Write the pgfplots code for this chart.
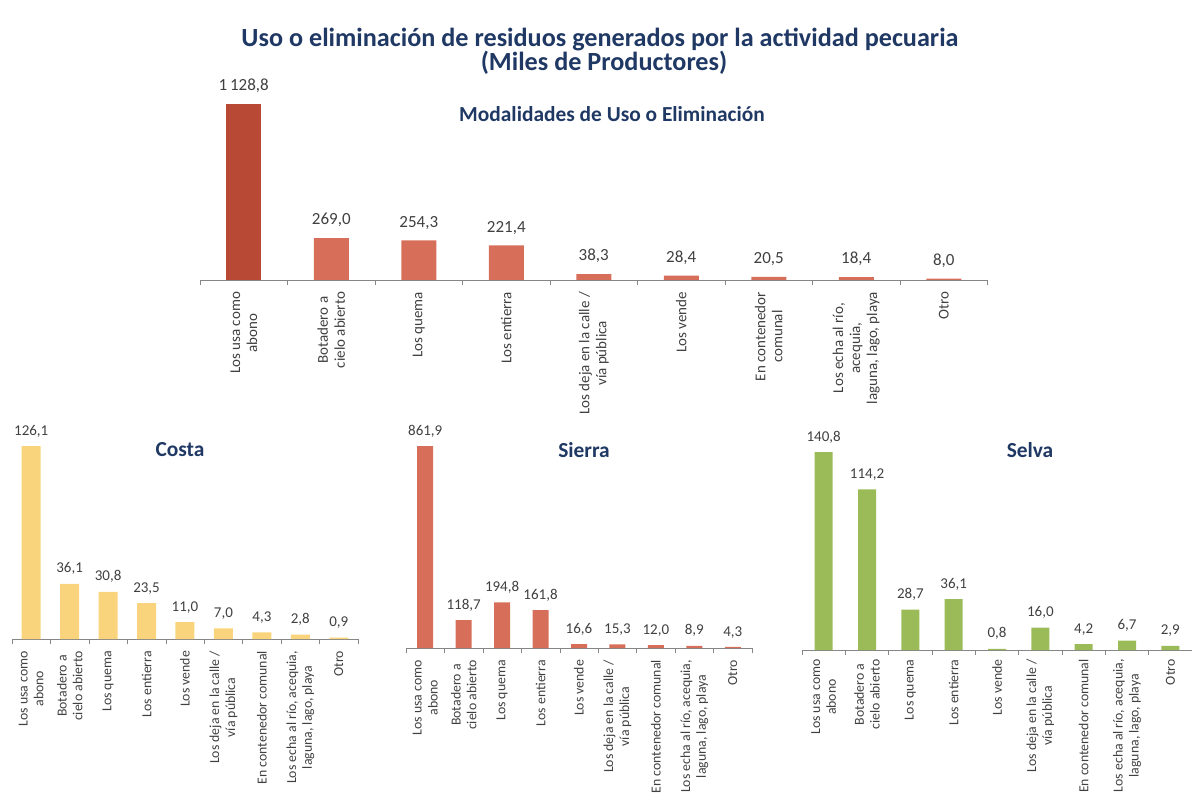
\documentclass[border=0pt]{standalone}
\usepackage{pgfplots}
\pgfplotsset{compat=1.18}
\usepackage{fontspec}
\setmainfont{Carlito}

\definecolor{navy}{RGB}{31,56,100}
\definecolor{darkred}{RGB}{184,74,53}
\definecolor{salmon}{RGB}{214,110,90}
\definecolor{costa}{RGB}{249,212,124}
\definecolor{selva}{RGB}{155,187,89}
\definecolor{axisgray}{RGB}{134,134,134}
\definecolor{txt}{RGB}{64,64,64}

\pgfplotsset{
  chartbase/.style={
    scale only axis,
    anchor=south west,
    ybar,
    ymin=0,
    xmin=-0.5, xmax=8.5,
    enlargelimits=false,
    clip=false,
    axis x line*=bottom,
    axis y line=none,
    ytick=\empty,
    xtick={-0.5,0.5,...,8.5},
    x tick label as interval,
    tick align=outside,
    major tick length=2.5pt,
    xtick style={draw=axisgray},
    x axis line style={draw=axisgray},
    xticklabel style={rotate=90, anchor=east, align=center, text=txt},
    nodes near coords,
    /pgf/number format/.cd, use comma, fixed, fixed zerofill, precision=1, 1000 sep={\,}, assume math mode=true,
    /pgfplots/.cd,
  },
  smallchart/.style={
    chartbase,
    xticklabel style={font=\fontsize{6.9}{7.9}\selectfont},
    every node near coord/.append style={font=\fontsize{7.5}{8}\selectfont, text=txt, yshift=1pt},
    xticklabels={{Los usa como\\abono},{Botadero a\\cielo abierto},{Los quema},{Los entierra},{Los vende},{Los deja en la calle /\\vía pública},{En contenedor comunal},{Los echa al río, acequia,\\laguna, lago, playa},{Otro}},
  },
}

\begin{document}
\begin{tikzpicture}
\path[use as bounding box] (0,0) rectangle (596pt,398.5pt);

\node[font=\bfseries\fontsize{13.1}{15}\selectfont, text=navy] at (300pt,378.5pt) {Uso o eliminación de residuos generados por la actividad pecuaria};
\node[font=\bfseries\fontsize{13.1}{15}\selectfont, text=navy] at (302pt,367pt) {(Miles de Productores)};

% grafico principal
\begin{axis}[
  chartbase,
  at={(100pt,258.5pt)},
  width=393.75pt, height=95pt,
  ymax=1218.6,
  bar width=17.5pt,
  xticklabel style={font=\fontsize{7.5}{8.5}\selectfont},
  every node near coord/.append style={font=\fontsize{8.5}{9}\selectfont, text=txt, yshift=2pt},
  xticklabels={{Los usa como\\abono},{Botadero a\\cielo abierto},{Los quema},{Los entierra},{Los deja en la calle /\\vía pública},{Los vende},{En contenedor\\comunal},{Los echa al río,\\acequia,\\laguna, lago, playa},{Otro}},
]
\addplot[fill=darkred, draw=none, bar shift=0pt] coordinates {(0,1128.8)};
\addplot[fill=salmon, draw=none, bar shift=0pt] coordinates {(1,269.0) (2,254.3) (3,221.4) (4,38.3) (5,28.4) (6,20.5) (7,18.4) (8,8.0)};
\end{axis}
\node[font=\bfseries\fontsize{10.7}{12}\selectfont, text=navy] at (306pt,341.5pt) {Modalidades de Uso o Eliminación};

% Costa
\begin{axis}[
  smallchart,
  at={(6pt,79pt)},
  width=173pt, height=100pt,
  ymax=130.7,
  bar width=9.5pt,
]
\addplot[fill=costa, draw=none, bar shift=0pt] coordinates {(0,126.1) (1,36.1) (2,30.8) (3,23.5) (4,11.0) (5,7.0) (6,4.3) (7,2.8) (8,0.9)};
\end{axis}
\node[font=\bfseries\fontsize{10.7}{12}\selectfont, text=navy] at (90pt,173.5pt) {Costa};

% Sierra
\begin{axis}[
  smallchart,
  at={(203pt,74.5pt)},
  width=173pt, height=104.5pt,
  ymax=891.8,
  bar width=8pt,
]
\addplot[fill=salmon, draw=none, bar shift=0pt] coordinates {(0,861.9) (1,118.7) (2,194.8) (3,161.8) (4,16.6) (5,15.3) (6,12.0) (7,8.9) (8,4.3)};
\end{axis}
\node[font=\bfseries\fontsize{10.7}{12}\selectfont, text=navy] at (292pt,173.5pt) {Sierra};

% Selva
\begin{axis}[
  smallchart,
  at={(401pt,73.5pt)},
  width=195pt, height=102.5pt,
  ymax=145.8,
  bar width=9pt,
  xticklabel style={inner sep=2pt},
]
\addplot[fill=selva, draw=none, bar shift=0pt] coordinates {(0,140.8) (1,114.2) (2,28.7) (3,36.1) (4,0.8) (5,16.0) (6,4.2) (7,6.7) (8,2.9)};
\end{axis}
\node[font=\bfseries\fontsize{10.7}{12}\selectfont, text=navy] at (515pt,173.5pt) {Selva};
\end{tikzpicture}
\end{document}
